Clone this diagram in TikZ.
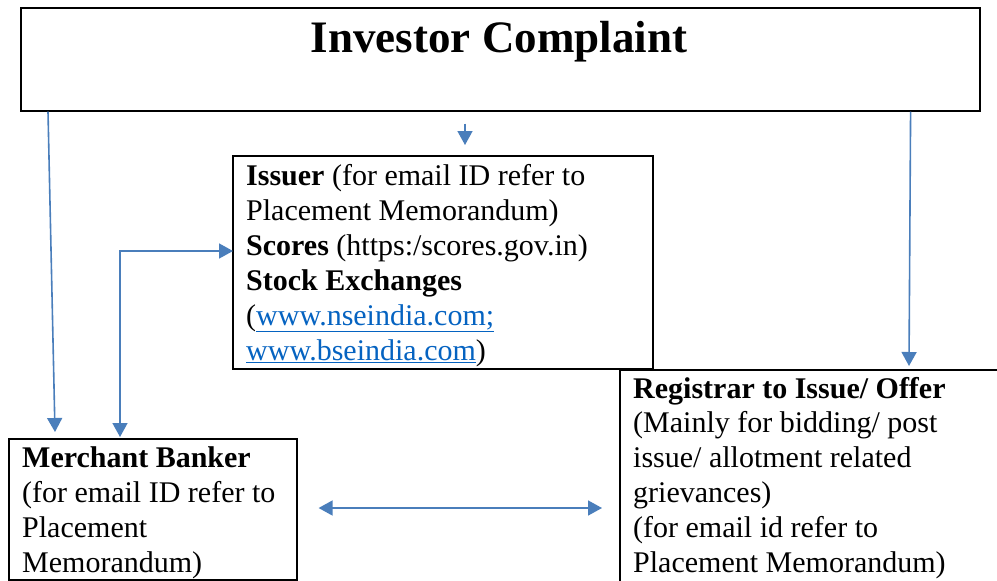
\documentclass[tikz,border=0pt]{standalone}
\usepackage{fontspec}
\setmainfont{Liberation Serif}
\usetikzlibrary{arrows.meta}
\definecolor{flowblue}{HTML}{4A7EBB}
\definecolor{linkblue}{HTML}{0563C1}
\newcommand{\weblink}[1]{\textcolor{linkblue}{\underline{#1}}}
\tikzset{bt/.tip={Triangle[length=14pt,width=15pt]}}

\begin{document}
\begin{tikzpicture}[x=1pt, y=-1pt,
    box/.style={draw, line width=1.6pt, inner sep=0pt, anchor=north west},
    body/.style={anchor=base west, inner sep=0pt, align=left, font=\fontsize{30}{35}\selectfont},
    flow/.style={draw=flowblue, line width=1.6pt, -bt}]

    \useasboundingbox (0,0) rectangle (997,581);

    % --- boxes (text nodes sit on their last baseline) ---
    \node[box, minimum width=959pt, minimum height=103pt] (complaint) at (20,7) {};
    \node[anchor=base, inner sep=0pt, font=\fontsize{45}{50}\selectfont\bfseries] (title) at (499,52) {Investor Complaint};

    \node[box, minimum width=420pt, minimum height=213pt] (issuer) at (232,155) {};
    \node[body] (issuertxt) at (246,360) {\textbf{Issuer} (for email ID refer to\\
        Placement Memorandum)\\
        \textbf{Scores} (https:/scores.gov.in)\\
        \textbf{Stock Exchanges}\\
        (\weblink{www.nseindia.com;}\\
        \weblink{www.bseindia.com})};

    \node[box, minimum width=288pt, minimum height=141pt] (merchant) at (8,438) {};
    \node[body, font=\fontsize{30}{34.7}\selectfont] (merchanttxt) at (22,572) {\textbf{Merchant Banker}\\
        (for email ID refer to\\
        Placement\\
        Memorandum)};

    \node[box, minimum width=400pt, minimum height=230pt] (registrar) at (619,369) {};
    \node[body, font=\fontsize{30}{34.8}\selectfont] (registrartxt) at (633,572) {\textbf{Registrar to Issue/ Offer}\\
        (Mainly for bidding/ post\\
        issue/ allotment related\\
        grievances)\\
        (for email id refer to\\
        Placement Memorandum)};

    % --- arrows ---
    \coordinate (leftstart) at ([xshift=28pt]complaint.south west);
    \coordinate (leftend) at ([xshift=47pt,yshift=6pt]merchant.north west);
    \draw[flow] (leftstart) -- (leftend);

    \coordinate (mbtop) at ([xshift=112pt,yshift=1pt]merchant.north west);
    \coordinate (issleft) at ([xshift=1pt,yshift=-96pt]issuer.north west);
    \draw[flow, bt-bt] (mbtop) |- (issleft);

    \coordinate (midstart) at ([xshift=445pt,yshift=-12pt]complaint.south west);
    \coordinate (midend) at ([xshift=233pt,yshift=10pt]issuer.north west);
    \draw[flow] (midstart) -- (midend);

    \coordinate (rightstart) at ([xshift=-70pt]complaint.south east);
    \coordinate (rightend) at ([xshift=290pt,yshift=3pt]registrar.north west);
    \draw[flow] (rightstart) -- (rightend);

    \coordinate (mbright) at ([xshift=21pt,yshift=-70pt]merchant.north east);
    \coordinate (regleft) at ([xshift=-17pt,yshift=-139pt]registrar.north west);
    \draw[flow, bt-bt] (mbright) -- (regleft);

\end{tikzpicture}
\end{document}
